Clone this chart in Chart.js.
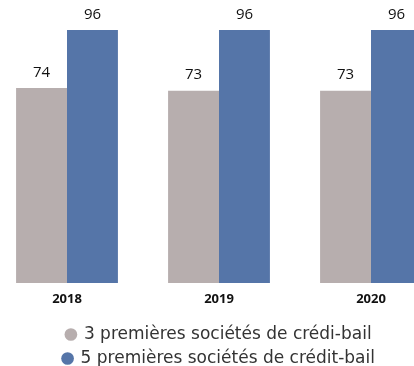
<!DOCTYPE html>
<html>
<head>
<meta charset="utf-8">
<script src="https://cdn.jsdelivr.net/npm/chart.js@4/dist/chart.umd.min.js"></script>
<style>
html, body { margin: 0; padding: 0; background: #fff; overflow: hidden; width: 414px; height: 366px; }
#clip { position: relative; width: 414px; height: 366px; overflow: hidden; }
#wrap { position: absolute; left: -9px; top: 0; width: 456px; height: 377px; }
</style>
</head>
<body>
<div id="clip"><div id="wrap"><canvas id="c" width="456" height="377"></canvas></div></div>
<script>
const categories = ["2018", "2019", "2020"];
const seriesNames = ["3 premières sociétés de crédi-bail", "5 premières sociétés de crédit-bail"];
const top3Values = [74, 73, 73];
const top5Values = [96, 96, 96];

const valueLabels = {
  id: 'valueLabels',
  afterDatasetsDraw(chart) {
    const ctx = chart.ctx;
    ctx.save();
    ctx.font = '15px "Open Sans", sans-serif';
    ctx.fillStyle = '#111';
    ctx.textAlign = 'center';
    ctx.textBaseline = 'bottom';
    chart.data.datasets.forEach((ds, i) => {
      const meta = chart.getDatasetMeta(i);
      meta.data.forEach((bar, j) => {
        ctx.fillText(String(ds.data[j]), bar.x, bar.y - 8);
      });
    });
    ctx.restore();
  }
};

new Chart(document.getElementById('c'), {
  type: 'bar',
  data: {
    labels: categories,
    datasets: [
      { label: seriesNames[0], data: top3Values, backgroundColor: '#b7aeae' },
      { label: seriesNames[1], data: top5Values, backgroundColor: '#5575a8' }
    ]
  },
  options: {
    responsive: false,
    devicePixelRatio: 1,
    animation: false,
    layout: { padding: 0 },
    datasets: { bar: { categoryPercentage: 0.67, barPercentage: 1.0 } },
    scales: {
      x: {
        grid: { display: false, drawTicks: false },
        border: { display: false },
        ticks: { color: '#111', font: { family: '"Open Sans", sans-serif', size: 13, weight: 'bold' }, padding: 8 },
        afterFit(scale) { scale.height = 36; }
      },
      y: { display: false, min: 0, max: 107.4 }
    },
    plugins: {
      legend: {
        position: 'bottom',
        labels: {
          usePointStyle: true,
          pointStyle: 'circle',
          boxWidth: 9,
          boxHeight: 9,
          padding: 7,
          color: '#333',
          font: { family: '"DejaVu Sans", sans-serif', size: 17 }
        }
      },
      tooltip: { enabled: false }
    }
  },
  plugins: [valueLabels]
});
</script>
</body>
</html>
